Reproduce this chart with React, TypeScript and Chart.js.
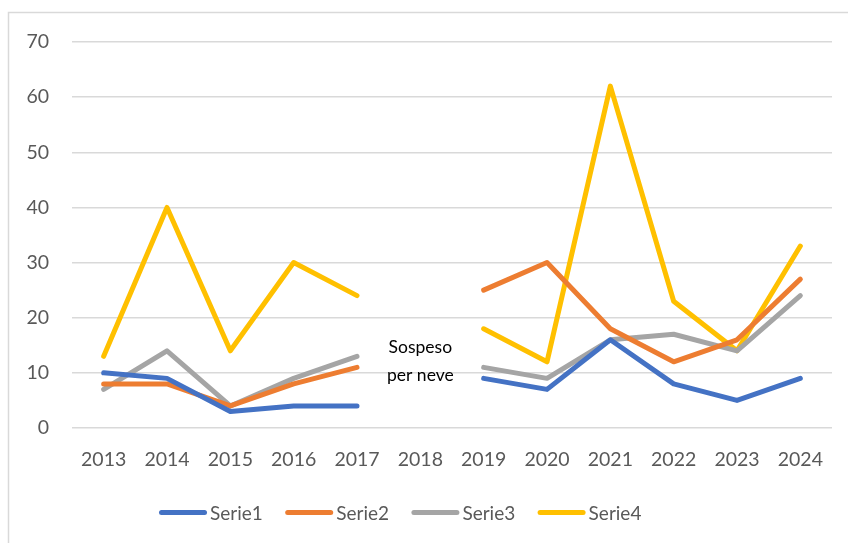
import React, { useEffect, useRef } from "react";
import { Chart, registerables } from "chart.js";

Chart.register(...registerables);

const years = ["2013", "2014", "2015", "2016", "2017", "2018", "2019", "2020", "2021", "2022", "2023", "2024"];
const serie1 = [10, 9, 3, 4, 4, null, 9, 7, 16, 8, 5, 9];
const serie2 = [8, 8, 4, 8, 11, null, 25, 30, 18, 12, 16, 27];
const serie3 = [7, 14, 4, 9, 13, null, 11, 9, 16, 17, 14, 24];
const serie4 = [13, 40, 14, 30, 24, null, 18, 12, 62, 23, 14, 33];
const noteLines = ["Sospeso", "per neve"];
const noteYear = "2018";
const noteValues = [14.6, 9.5];

const FONT = "Lato, 'Open Sans', sans-serif";

const frame = {
  id: "frame",
  beforeDraw(chart: any) {
    const { ctx, width, height } = chart;
    ctx.save();
    ctx.fillStyle = "#ffffff";
    ctx.fillRect(0, 0, width, height);
    ctx.strokeStyle = "#d9d9d9";
    ctx.lineWidth = 1.5;
    ctx.beginPath();
    ctx.moveTo(8.5, height);
    ctx.lineTo(8.5, 12.5);
    ctx.lineTo(width, 12.5);
    ctx.stroke();
    ctx.restore();
  },
};

const note = {
  id: "note",
  afterDatasetsDraw(chart: any) {
    const { ctx } = chart;
    const xs = chart.scales.x;
    const ys = chart.scales.y;
    const x = xs.getPixelForValue(years.indexOf(noteYear));
    ctx.save();
    ctx.fillStyle = "#000000";
    ctx.font = `17.5px ${FONT}`;
    ctx.textAlign = "center";
    ctx.textBaseline = "middle";
    noteLines.forEach((t, i) => {
      ctx.fillText(t, x, ys.getPixelForValue(noteValues[i]));
    });
    ctx.restore();
  },
};

const legendBox = {
  id: "legendBox",
  afterDraw(chart: any) {
    const { ctx } = chart;
    const startX = 161.5;
    const step = 126.2;
    const lineLen = 43;
    const y = 512.5;
    ctx.save();
    ctx.font = `19px ${FONT}`;
    ctx.textAlign = "left";
    ctx.textBaseline = "middle";
    chart.data.datasets.forEach((ds: any, i: number) => {
      const x0 = startX + i * step;
      ctx.strokeStyle = ds.borderColor;
      ctx.lineWidth = 5;
      ctx.lineCap = "round";
      ctx.beginPath();
      ctx.moveTo(x0, y);
      ctx.lineTo(x0 + lineLen, y);
      ctx.stroke();
      ctx.fillStyle = "#595959";
      ctx.fillText(ds.label, x0 + lineLen + 5.5, y + 1);
    });
    ctx.restore();
  },
};

export default function App() {
  const ref = useRef<HTMLCanvasElement>(null);
  useEffect(() => {
    const mk = (label: string, data: any[], color: string) => ({
      label,
      data,
      borderColor: color,
      backgroundColor: color,
      borderWidth: 5,
      borderCapStyle: "round",
      borderJoinStyle: "round",
      pointRadius: 0,
      pointHoverRadius: 0,
      tension: 0,
      spanGaps: false,
    });
    const chart = new Chart(ref.current!, {
      type: "line",
      data: {
        labels: years,
        datasets: [
          mk("Serie1", serie1, "#4472C4"),
          mk("Serie2", serie2, "#ED7D31"),
          mk("Serie3", serie3, "#A5A5A5"),
          mk("Serie4", serie4, "#FFC000"),
        ],
      },
      options: {
        animation: false,
        responsive: false,
        devicePixelRatio: 1,
        layout: { padding: { top: 42, right: 16, left: 0, bottom: 55 } },
        plugins: {
          tooltip: { enabled: false },
          legend: { display: false },
        },
        scales: {
          x: {
            offset: true,
            grid: { display: false, drawTicks: false },
            border: { display: false },
            ticks: {
              color: "#595959",
              font: { family: FONT, size: 19.5 },
              padding: 20,
              maxRotation: 0,
              autoSkip: false,
            },
            afterFit: (s: any) => {
              s.height = 60;
            },
          },
          y: {
            min: 0,
            max: 70,
            grid: { color: "#d9d9d9", lineWidth: 1.5, drawTicks: false },
            border: { display: false },
            ticks: {
              stepSize: 10,
              color: "#595959",
              font: { family: FONT, size: 19.5 },
              padding: 23,
            },
            afterFit: (s: any) => {
              s.width = 72;
            },
          },
        },
      },
      plugins: [frame, note, legendBox],
    });
    return () => chart.destroy();
  }, []);
  return (
    <div style={{ position: "fixed", left: 0, top: 0, width: 848, height: 543 }}>
      <canvas ref={ref} width={848} height={543} style={{ display: "block" }} />
    </div>
  );
}
